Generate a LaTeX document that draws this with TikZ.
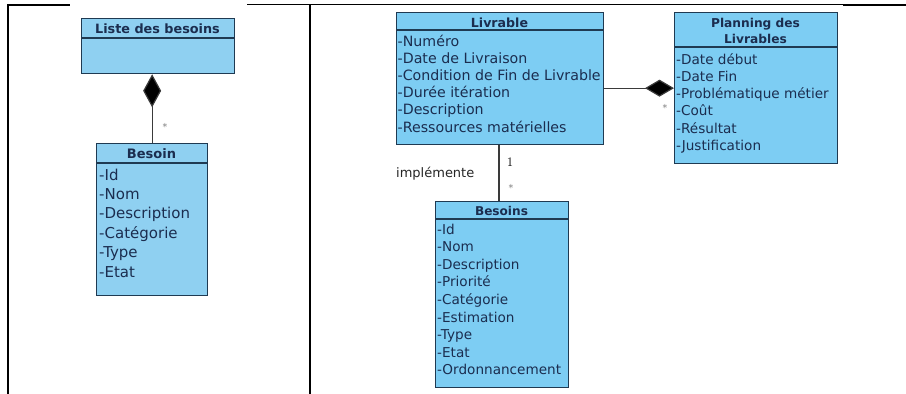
\documentclass[tikz,border=0pt]{standalone}
\usepackage{fontspec}
\usetikzlibrary{arrows.meta}
\newfontfamily\umlf{DejaVu Sans}
\definecolor{fillR}{HTML}{7DCDF3}
\definecolor{fillL}{HTML}{8FD0F1}
\definecolor{edge}{HTML}{1F3A52}
\definecolor{txt}{HTML}{1B2D4F}
\definecolor{conn}{HTML}{3A3A3A}
\begin{document}
\begin{tikzpicture}[x=1pt,y=-1pt,
  boxR/.style={draw=edge, fill=fillR, line width=1.3pt, anchor=north west, inner sep=0, minimum width=#1},
  boxL/.style={draw=edge, fill=fillL, line width=1.3pt, anchor=north west, inner sep=0, minimum width=#1},
  divider/.style={draw=edge, line width=1.3pt},
  ttl/.style={font=\umlf\bfseries\fontsize{#1}{#1}\selectfont, text=txt, anchor=base, inner sep=0},
  attr/.style={font=\umlf\fontsize{#1}{#1}\selectfont, text=txt, anchor=base west, inner sep=0},
  connector/.style={draw=conn, line width=1.2pt},
  mult/.style={font=\umlf\fontsize{9.5}{9.5}\selectfont, text=gray, inner sep=0},
  frame/.style={draw=black, line width=2pt}
]
\useasboundingbox (0,0) rectangle (906,394);
\fill[white] (0,0) rectangle (906,394);
% table frame
\draw[frame] (7,4.5) -- (70,4.5);
\draw[frame, line width=1.6pt] (247,4.5) -- (843,4.5);
\draw[frame, line width=2.4pt] (843,5) -- (906,5);
\draw[frame] (7.5,4) -- (7.5,394);
\draw[frame] (309.5,4) -- (309.5,394);

% ---------- left diagram ----------
\node[boxL=153pt, minimum height=55pt] (liste) at (81,18) {};
\draw[divider] (81,38) -- (234,38);
\node[ttl=12.8] (listeT) at (157.5,33) {Liste des besoins};

\node[boxL=111pt, minimum height=152pt] (besoin) at (96,143) {};
\draw[divider] (96,163) -- (207,163);
\node[ttl=13] (besoinT) at (151.5,158) {Besoin};
\foreach \t [count=\i from 0] in {-Id,-Nom,-Description,-Catégorie,-Type,-Etat}
  \node[attr=15] (bl-\i) at (99,{180+19.4*\i}) {\t};

\draw[connector, {Diamond[length=33pt,width=18pt,fill=black]}-] (besoin.north |- liste.south) -- (besoin.north);
\node[mult] (m1) at (165,127) {*};

% ---------- Livrable ----------
\node[boxR=207pt, minimum height=132pt] (livrable) at (396,12) {};
\draw[divider] (396,30) -- (603,30);
\node[ttl=12.6] (livT) at (499.5,27) {Livrable};
\foreach \t [count=\i from 0] in {-Numéro,-Date de Livraison,-Condition de Fin de Livrable,-Durée itération,-Description,-Ressources matérielles}
  \node[attr=14.2] (lv-\i) at (397.5,{46+17.2*\i}) {\t};

% ---------- Planning ----------
\node[boxR=163pt, minimum height=151pt] (planning) at (674,12) {};
\draw[divider] (674,47) -- (837,47);
\node[ttl=12.2] (plT1) at (755.5,27) {Planning des};
\node[ttl=12.2] (plT2) at (755.5,43) {Livrables};
\foreach \t [count=\i from 0] in {-Date début,-Date Fin,-Problématique métier,-Coût,-Résultat,-Justification}
  \node[attr=13.6] (pl-\i) at (676,{64+17.3*\i}) {\t};

\draw[connector, -{Diamond[length=29pt,width=17pt,fill=black]}] (planning.west -| livrable.east) -- (planning.west);
\node[mult] (m2) at (665,108) {*};

% ---------- Besoins ----------
\node[boxR=133pt, minimum height=186pt] (besoins) at (435,201) {};
\draw[divider] (435,219) -- (568,219);
\node[ttl=12.1] (bsT) at (501.5,215) {Besoins};
\foreach \t [count=\i from 0] in {-Id,-Nom,-Description,-Priorité,-Catégorie,-Estimation,-Type,-Etat,-Ordonnancement}
  \node[attr=13.6] (bs-\i) at (437,{234+17.6*\i}) {\t};

\draw[connector] (livrable.south -| 499,0) -- (499,201);
\node[font=\fontsize{13}{13}\selectfont, inner sep=0] (one) at (510,162) {1};
\node[mult] (m3) at (511,188) {*};
\node[font=\umlf\fontsize{13}{13}\selectfont, text=black!85, anchor=base west, inner sep=0] (impl) at (396,177) {implémente};
\end{tikzpicture}
\end{document}
